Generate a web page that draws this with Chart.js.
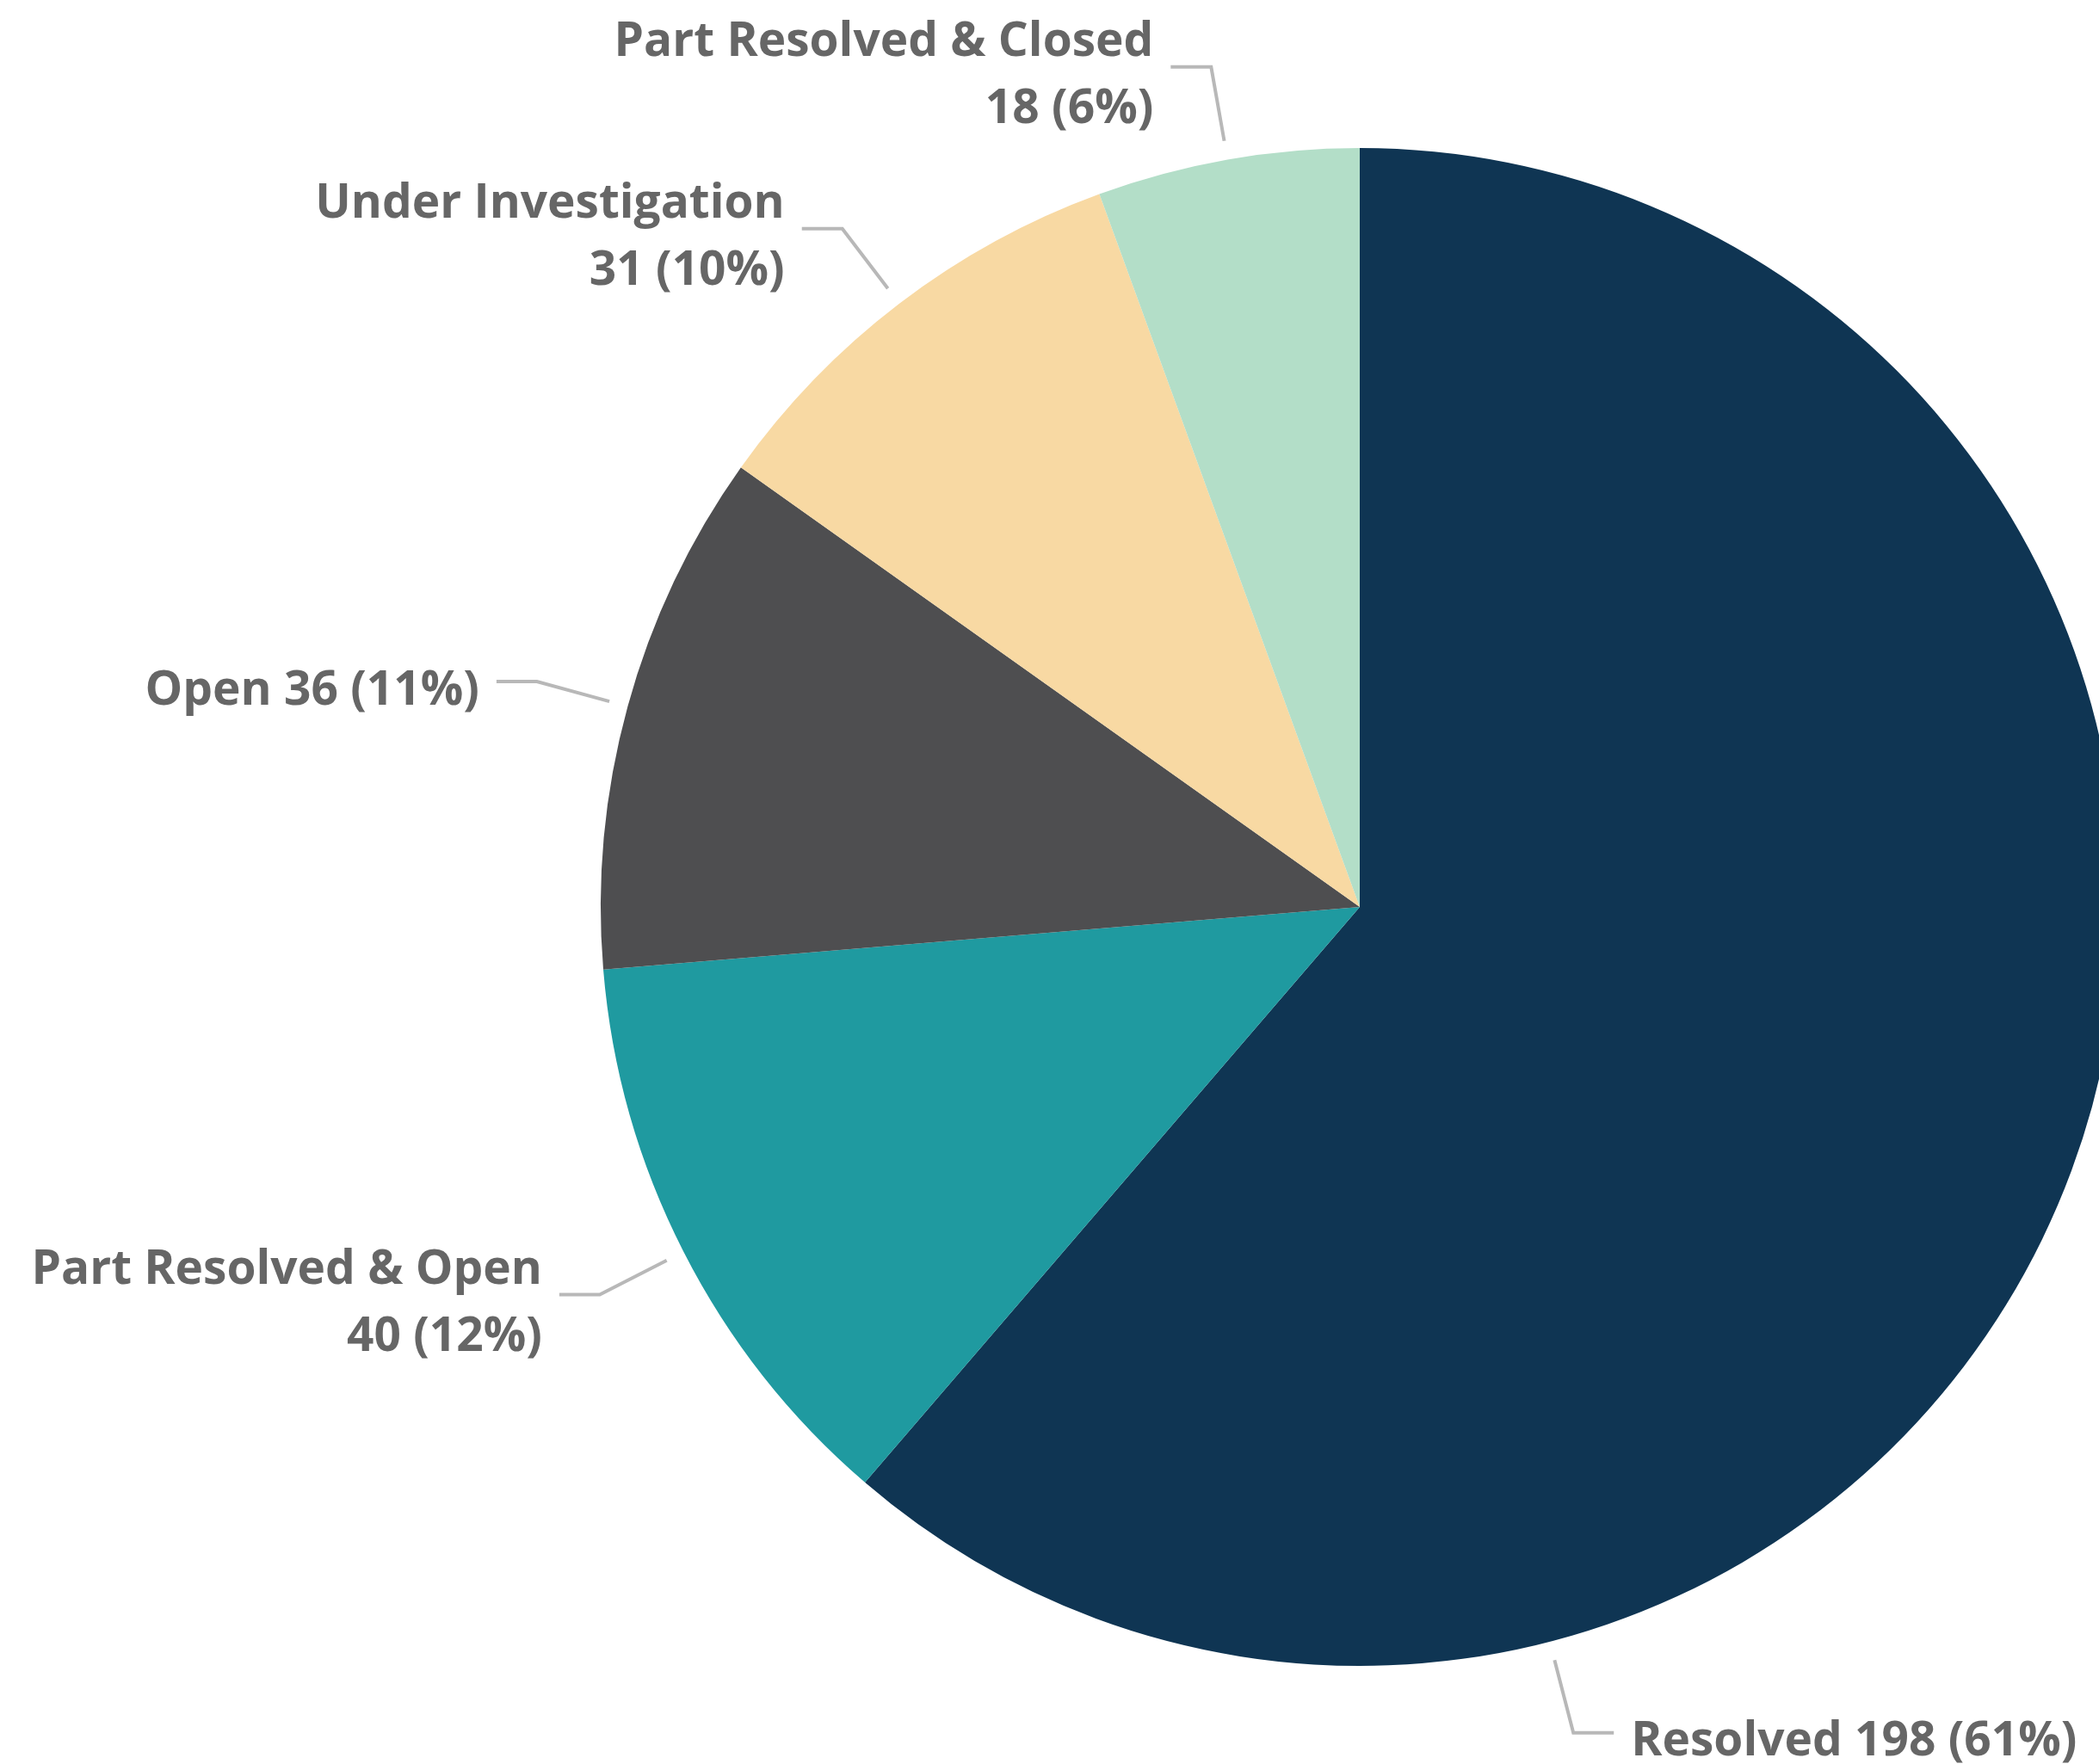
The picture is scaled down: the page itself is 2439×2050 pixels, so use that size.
<!DOCTYPE html>
<html>
<head>
<meta charset="utf-8">
<script src="https://cdn.jsdelivr.net/npm/chart.js@4.4.1/dist/chart.umd.min.js"></script>
<style>
  html, body { margin: 0; padding: 0; background: #fff; overflow: hidden; }
  /* mais largo que a janela: a pizza é cortada à direita como no original */
  #wrap { width: 2462px; height: 2050px; position: relative; }
</style>
</head>
<body>
<div id="wrap"><canvas id="pie"></canvas></div>
<script>
// data
const categorias = ['Resolved', 'Part Resolved & Open', 'Open', 'Under Investigation', 'Part Resolved & Closed'];
const valores = [198, 40, 36, 31, 18];
const cores = ['#0F3553', '#1F9AA0', '#4E4E50', '#F8D9A3', '#B3DEC8'];

const total = valores.reduce((a, b) => a + b, 0);

function textoRotulo(i) {
    let nome = categorias[i];
    let v = valores[i];
    let pct = Math.round(v / total * 100);
    let resto = `${v} (${pct}%)`;
    // nomes compridos vao em duas linhas, como no original
    if (nome.length > 10) return [nome, resto];
    return [nome + ' ' + resto];
}

// rotulos com linha de chamada
const rotulosPlugin = {
    id: 'rotulos',
    afterDatasetsDraw(chart, args, opts) {
        const ctx = chart.ctx;
        const arcs = chart.getDatasetMeta(0).data;
        ctx.save();
        ctx.font = opts.font;
        ctx.fillStyle = opts.color;
        ctx.strokeStyle = opts.lineColor;
        ctx.lineWidth = opts.lineWidth;
        ctx.lineJoin = 'miter';
        arcs.forEach((arc, i) => {
            const p = arc.getProps(['x', 'y', 'startAngle', 'endAngle', 'outerRadius'], true);
            let ang = (p.startAngle + p.endAngle) / 2;
            if (opts.anguloFixo[i] !== undefined) {
                ang = (opts.anguloFixo[i] - 90) * Math.PI / 180;
            }
            const r = p.outerRadius;
            const x0 = p.x + Math.cos(ang) * r * opts.inicio;
            const y0 = p.y + Math.sin(ang) * r * opts.inicio;
            const x1 = p.x + Math.cos(ang) * r * opts.cotovelo;
            const y1 = p.y + Math.sin(ang) * r * opts.cotovelo;
            const dir = x1 >= p.x ? 1 : -1;
            const x2 = x1 + dir * opts.horiz;

            ctx.beginPath();
            ctx.moveTo(x0, y0);
            ctx.lineTo(x1, y1);
            ctx.lineTo(x2, y1);
            ctx.stroke();

            const linhas = textoRotulo(i);
            const tx = x2 + dir * opts.gap;
            const meio = y1 + opts.dy;
            const topo = meio - (linhas.length - 1) * opts.lineHeight / 2;
            ctx.textAlign = dir > 0 ? 'left' : 'right';
            ctx.textBaseline = 'middle';
            linhas.forEach((l, k) => ctx.fillText(l, tx, topo + k * opts.lineHeight));
        });
        ctx.restore();
    }
};

const el = document.getElementById('pie');
new Chart(el, {
    type: 'pie',
    data: {
        labels: categorias,
        datasets: [{
            data: valores,
            backgroundColor: cores,
            borderWidth: 0
        }]
    },
    options: {
        responsive: true,
        maintainAspectRatio: false,
        animation: false,
        layout: {
            padding: { top: 172, bottom: 114, left: 698, right: 0 }
        },
        plugins: {
            legend: { display: false },
            tooltip: { enabled: false },
            rotulos: {
                font: 'bold 55px "Open Sans"',
                color: '#666666',
                lineColor: '#B8B8B8',
                lineWidth: 4,
                lineHeight: 78,
                inicio: 1.025,
                cotovelo: 1.124,
                horiz: 47,
                gap: 20,
                dy: 11,
                anguloFixo: { 0: 165.5 }
            }
        }
    },
    plugins: [rotulosPlugin]
});
</script>
</body>
</html>
